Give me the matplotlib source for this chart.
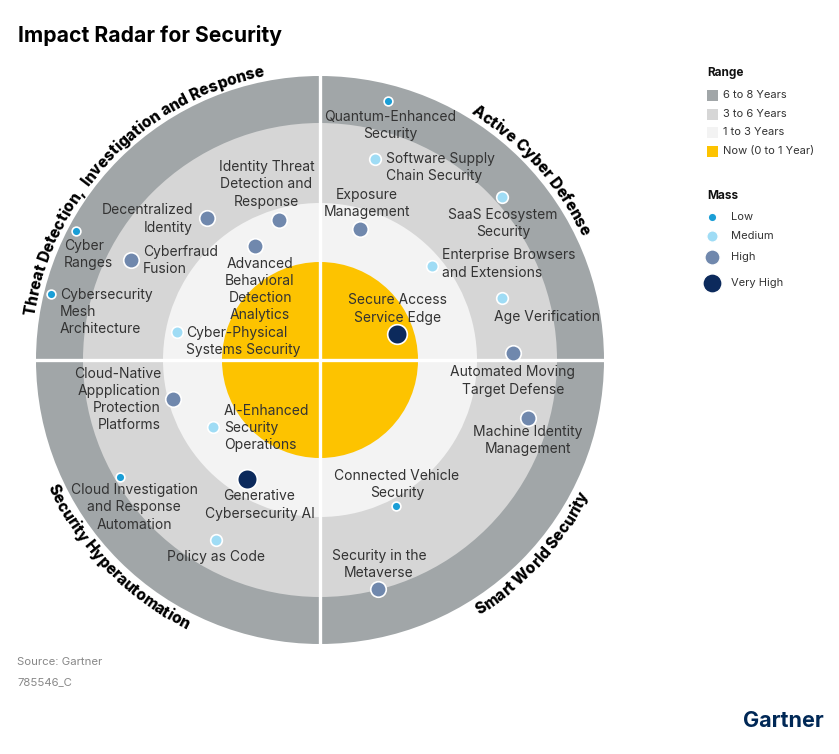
import numpy as np
import matplotlib
matplotlib.use("Agg")
import matplotlib.pyplot as plt
from matplotlib.patches import Circle, Rectangle
from matplotlib.font_manager import FontProperties
from matplotlib.textpath import TextToPath

# ---------------- data ----------------
technologies = [
    "Quantum-Enhanced\nSecurity",
    "Software Supply\nChain Security",
    "SaaS Ecosystem\nSecurity",
    "Exposure\nManagement",
    "Enterprise Browsers\nand Extensions",
    "Age Verification",
    "Secure Access\nService Edge",
    "Automated Moving\nTarget Defense",
    "Machine Identity\nManagement",
    "Connected Vehicle\nSecurity",
    "Security in the\nMetaverse",
    "Generative\nCybersecurity AI",
    "Policy as Code",
    "Cloud Investigation\nand Response\nAutomation",
    "AI-Enhanced\nSecurity\nOperations",
    "Cloud-Native\nAppplication\nProtection\nPlatforms",
    "Cyber-Physical\nSystems Security",
    "Advanced\nBehavioral\nDetection\nAnalytics",
    "Identity Threat\nDetection and\nResponse",
    "Decentralized\nIdentity",
    "Cyberfraud\nFusion",
    "Cyber\nRanges",
    "Cybersecurity\nMesh\nArchitecture",
]
mass = [
    "Low", "Medium", "Medium", "High", "Medium", "Medium", "Very High",
    "High", "High", "Low", "High", "Very High", "Medium", "Low", "Medium",
    "High", "Medium", "High", "High", "High", "High", "Low", "Low",
]
# position on the radar (offset from centre, px-like units; y up)
pos_x = [68, 55, 182, 40, 112, 182, 77, 193, 208, 76, 58, -73, -104, -200,
         -107, -147, -143, -65, -41, -113, -189, -244, -269]
pos_y = [259, 201, 163, 131, 94, 62, 26, 7, -58, -146, -229, -119, -180, -117,
         -67, -39, 28, 114, 140, 142, 100, 129, 66]

range_labels = ["6 to 8 Years", "3 to 6 Years", "1 to 3 Years", "Now (0 to 1 Year)"]
mass_levels = ["Low", "Medium", "High", "Very High"]
themes = ["Threat Detection,  Investigation and Response", "Active Cyber Defense",
          "Security Hyperautomation", "Smart World Security"]

# ---------------- layout / style ----------------
W, H = 839, 754
CX, CY = 320, 360
ring_r = [284, 237, 157, 98]
ring_col = ["#a1a6a8", "#d6d6d6", "#f3f3f3", "#fdc300"]
mass_col = {"Low": "#1a9ed6", "Medium": "#9fdcf5", "High": "#7088ad", "Very High": "#0c2a5c"}
mass_size = {"Low": 40, "Medium": 70, "High": 125, "Very High": 200}

label_pos = {
    0: (70, 234.5, "center"), 1: (66, 192.5, "left"), 2: (183, 136.5, "center"),
    3: (47, 156.5, "center"), 4: (122, 96, "left"), 5: (227, 43, "center"),
    6: (77.6, 51, "center"), 7: (193, -21, "center"), 8: (208, -80.5, "center"),
    9: (77, -124.5, "center"), 10: (59, -204.5, "center"), 11: (-60.5, -145, "center"),
    12: (-104, -197, "center"), 13: (-186, -147.5, "center"), 14: (-96, -68, "left"),
    15: (-159, -39.5, "right"), 16: (-134, 18.5, "left"), 17: (-60, 70.5, "center"),
    18: (-53.5, 175.5, "center"), 19: (-127, 141, "right"), 20: (-177, 99.5, "left"),
    21: (-256, 105.5, "left"), 22: (-260, 48, "left"),
}

LABEL_FONT = "Inter"
BOLD_FONT = "Inter"
TXT = "#333333"


def P(x, y):
    """image pixel -> data coordinates"""
    return x - CX, CY - y


fig = plt.figure(figsize=(W / 100, H / 100), dpi=100)
ax = fig.add_axes([0, 0, 1, 1])
ax.set_xlim(-CX, W - CX)
ax.set_ylim(CY - H, CY)
ax.set_aspect("equal")
ax.axis("off")

# rings
for r, c in zip(ring_r, ring_col):
    ax.add_patch(Circle((0, 0), r, facecolor=c, edgecolor="none", zorder=1))
# quadrant dividers
ax.plot([-ring_r[0], ring_r[0]], [0, 0], color="white", lw=2.4, zorder=2)
ax.plot([0, 0], [-ring_r[0], ring_r[0]], color="white", lw=2.4, zorder=2)

# dots and labels
for i, (name, m, x, y) in enumerate(zip(technologies, mass, pos_x, pos_y)):
    ax.scatter([x], [y], s=mass_size[m], color=mass_col[m], edgecolors="white",
               linewidths=1.2, zorder=4)
    lx, ly, ha = label_pos[i]
    ax.text(lx, ly, name, ha=ha, va="center", multialignment=ha, fontsize=10,
            family=LABEL_FONT, color=TXT, linespacing=1.3, zorder=5)

# curved theme labels
t2p = TextToPath()


def tw(s, fp):
    w, h, d = t2p.get_text_width_height_descent(s, fp, ismath=False)
    return w * 100 / 72


def curved(s, r, theta_c, clockwise, fp):
    total = tw(s, fp)
    for i, ch in enumerate(s):
        if ch == " ":
            continue
        right = tw(s[: i + 1], fp)
        cw = tw(ch, fp)
        off = right - cw / 2 - total / 2
        dth = np.degrees(off / r)
        if clockwise:
            th = theta_c - dth
            rot = th - 90
        else:
            th = theta_c + dth
            rot = th + 90
        ax.text(r * np.cos(np.radians(th)), r * np.sin(np.radians(th)), ch,
                rotation=rot, rotation_mode="anchor", ha="center", va="baseline",
                fontproperties=fp, color="black", zorder=6)


fp_ref = FontProperties(family=BOLD_FONT, weight="heavy", size=10)
fs = 10 * 168 / tw("Active Cyber Defense", fp_ref)
fp = FontProperties(family=BOLD_FONT, weight="heavy", size=fs)
curved(themes[0], 289, 136.2, True, fp)
curved(themes[1], 289, 42.0, True, fp)
curved(themes[2], 301, 224.3, False, fp)
curved(themes[3], 301, 317.6, False, fp)

# title
ax.text(*P(18, 36), "Impact Radar for Security", ha="left", va="center",
        fontsize=15.2, family=BOLD_FONT, weight="bold", color="black")

# legend: range
ax.text(*P(707, 73), "Range", ha="left", va="center", fontsize=8.5,
        family=BOLD_FONT, weight="bold", color="#111111")
for k, (lab, c) in enumerate(zip(range_labels, ring_col)):
    yy = [95, 114, 132, 151][k]
    x0, y0 = P(707, yy + 5.5)
    ax.add_patch(Rectangle((x0, y0), 11, 11, facecolor=c, edgecolor="none"))
    ax.text(*P(723, yy), lab, ha="left", va="center", fontsize=8,
            family=LABEL_FONT, color=TXT)

# legend: mass
ax.text(*P(707, 196), "Mass", ha="left", va="center", fontsize=8.5,
        family=BOLD_FONT, weight="bold", color="#111111")
for k, m in enumerate(mass_levels):
    yy = [217, 236, 257, 283][k]
    ax.scatter(*P(712, yy), s=mass_size[m] * 0.95, color=mass_col[m],
               edgecolors="white", linewidths=1.0)
    ax.text(*P(731, yy), m, ha="left", va="center", fontsize=8,
            family=LABEL_FONT, color=TXT)

# footer
ax.text(*P(17, 662), "Source: Gartner", ha="left", va="center", fontsize=8.2,
        family=LABEL_FONT, color="#888888")
ax.text(*P(17, 682), "785546_C", ha="left", va="center", fontsize=8.2,
        family=LABEL_FONT, color="#888888")
ax.text(*P(743, 721), "Gartner", ha="left", va="center", fontsize=15.5,
        family=BOLD_FONT, weight="bold", color="#002856")

fig.savefig("out.png", dpi=100, facecolor="white")
